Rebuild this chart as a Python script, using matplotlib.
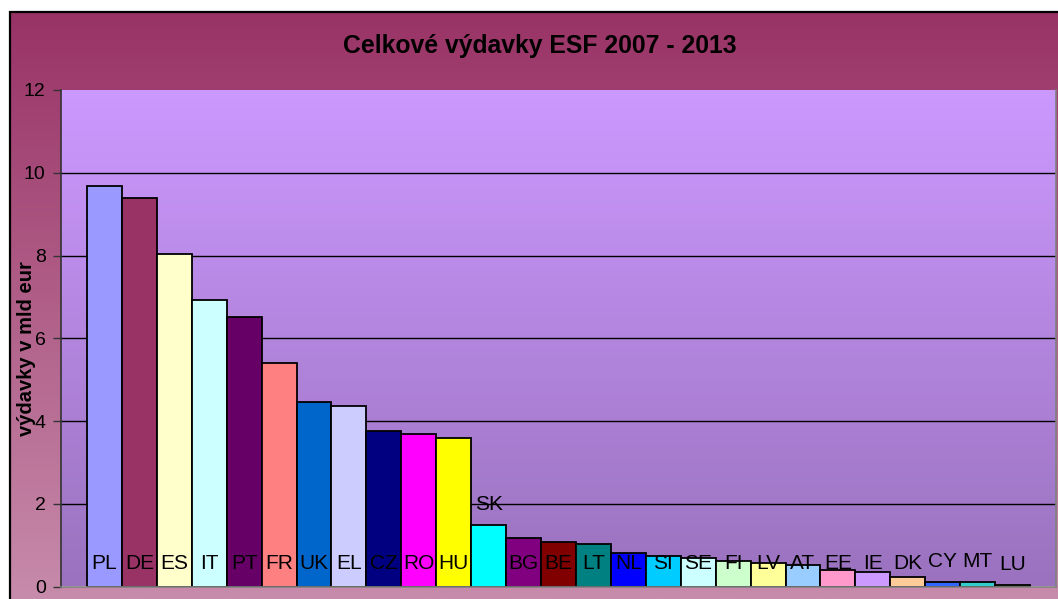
import numpy as np
import matplotlib
matplotlib.use("Agg")
import matplotlib.pyplot as plt
from matplotlib.colors import LinearSegmentedColormap
from matplotlib.patches import Rectangle

plt.rcParams['font.family'] = ['Liberation Sans', 'DejaVu Sans']

# data (bn EUR)
countries = ["PL", "DE", "ES", "IT", "PT", "FR", "UK", "EL", "CZ", "RO", "HU",
             "SK", "BG", "BE", "LT", "NL", "SI", "SE", "FI", "LV", "AT", "EE",
             "IE", "DK", "CY", "MT", "LU"]
values = [9.68, 9.39, 8.03, 6.92, 6.51, 5.40, 4.45, 4.36, 3.75, 3.68, 3.60,
          1.48, 1.18, 1.07, 1.03, 0.82, 0.74, 0.69, 0.62, 0.56, 0.51, 0.39,
          0.36, 0.24, 0.11, 0.11, 0.03]
bar_colors = ["#9999FF", "#993366", "#FFFFCC", "#CCFFFF", "#660066", "#FF8080",
              "#0066CC", "#CCCCFF", "#000080", "#FF00FF", "#FFFF00", "#00FFFF",
              "#800080", "#800000", "#008080", "#0000FF", "#00CCFF", "#CCFFFF",
              "#CCFFCC", "#FFFF99", "#99CCFF", "#FF99CC", "#CC99FF", "#FFCC99",
              "#3366FF", "#33CCCC", "#99CC00"]
# labels drawn above the bar instead of inside at the base
labels_above = ["SK", "CY", "MT", "LU"]
y_ticks = [0, 2, 4, 6, 8, 10, 12]

W, H = 1058, 599
fig = plt.figure(figsize=(W / 100, H / 100), dpi=100)

# chart area background with vertical gradient
bg = fig.add_axes([10 / W, 0, 1 - 10 / W, 1 - 12 / H])
bg_cmap = LinearSegmentedColormap.from_list("bg", ["#993366", "#C78BAB"])
grad = np.linspace(0, 1, 256).reshape(-1, 1)
bg.imshow(grad, cmap=bg_cmap, aspect="auto", extent=[0, 1, 0, 1], origin="upper")
bg.set_xlim(0, 1)
bg.set_ylim(0, 1)
bg.axis("off")
fig.add_artist(Rectangle((10 / W, -0.01), 1.0, 1 - 12 / H + 0.01, transform=fig.transFigure,
                         fill=False, edgecolor="black", linewidth=1.6, zorder=5))

ax = fig.add_axes([61 / W, 12.5 / H, 995 / W, 496.5 / H])
x = np.arange(len(countries))
xlim = (-1.245, len(countries) - 1 + 1.245)

plot_cmap = LinearSegmentedColormap.from_list("plot", ["#CC99FF", "#9A72BE"])
ax.imshow(grad, cmap=plot_cmap, aspect="auto",
          extent=[xlim[0], xlim[1], 0, 12], origin="upper", zorder=0)

for yv in y_ticks[1:-1]:
    ax.axhline(yv, color="black", linewidth=1.0, zorder=1)

ax.bar(x, values, width=1.0, color=bar_colors, edgecolor="black",
       linewidth=1.3, zorder=2)

for xi, name, v in zip(x, countries, values):
    if name in labels_above:
        ax.annotate(name, xy=(xi, v), xytext=(0, 15), textcoords="offset points",
                    ha="center", va="center", fontsize=15, zorder=4)
    else:
        ax.annotate(name, xy=(xi, 0), xytext=(0, 16.5), textcoords="offset points",
                    ha="center", va="center", fontsize=15, zorder=4)

ax.set_xlim(*xlim)
ax.set_ylim(0, 12)
ax.set_yticks(y_ticks)
ax.set_yticklabels([str(t) for t in y_ticks], fontsize=14)
ax.set_xticks([])
ax.tick_params(axis="y", direction="out", length=6, width=1, color="#333333", pad=5)

ax.spines["left"].set_color("#333333")
ax.spines["left"].set_linewidth(1.2)
for s in ["right", "bottom", "top"]:
    ax.spines[s].set_color("#808080")
    ax.spines[s].set_linewidth(1.2)
ax.spines["top"].set_visible(False)

ax.set_ylabel("výdavky v mld eur", fontsize=14.5, fontweight="bold")
ax.yaxis.set_label_coords(-0.025, 0.48)

fig.text(540 / W, 1 - 46 / H, "Celkové výdavky ESF 2007 - 2013",
         ha="center", va="center", fontsize=17.8, fontweight="bold")

fig.savefig("out.png", dpi=100)
